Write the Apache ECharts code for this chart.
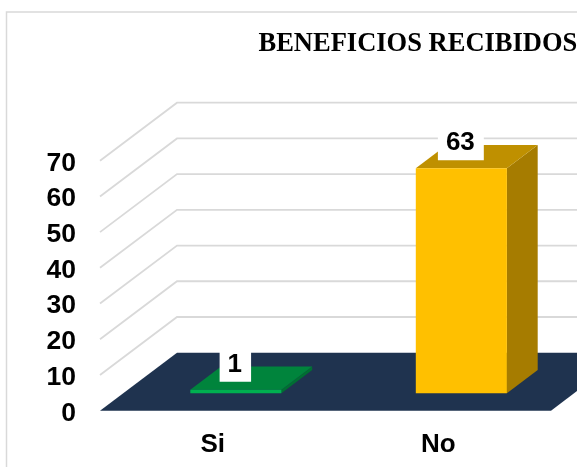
<!DOCTYPE html>
<html>
<head>
<meta charset="utf-8">
<style>html,body{margin:0;padding:0;background:#fff}#c{width:577px;height:467px}</style>
<script src="https://cdn.jsdelivr.net/npm/echarts@6/dist/echarts.min.js"></script>
</head>
<body>
<div id="c"></div>
<script>
const categories = ['Si', 'No'];
const values = [1, 63];
const ticks = [0, 10, 20, 30, 40, 50, 60, 70];
const titleText = 'BENEFICIOS RECIBIDOS';
const fronts = ['#00B050', '#FFC000'];
const tops = ['#00843C', '#BF9000'];
const sides = ['#006F32', '#A67C00'];
const floorColor = '#1F334F';
const gridColor = '#D9D9D9';

const depthX = 77, depthY = 58, nearF = 0.3, farF = 0.7, barRatio = 0.404;
const font = 'bold 26px "Liberation Sans", Arial, sans-serif';
const labelStyle = {color: '#000', fontFamily: '"Liberation Sans", Arial, sans-serif', fontWeight: 'bold', fontSize: 26.5};

const chart = echarts.init(document.getElementById('c'), null, {renderer: 'canvas'});

function wall(params, api) {
  const t = api.value(1);
  const cs = params.coordSys;
  const y = api.coord([0, t])[1];
  const L = cs.x, R = cs.x + cs.width;
  if (t === 0) {
    return {type: 'polygon', shape: {points: [[L, y], [L + depthX, y - depthY], [R + depthX, y - depthY], [R, y]]},
      style: {fill: floorColor}};
  }
  return {type: 'polyline', shape: {points: [[L, y], [L + depthX, y - depthY], [R + depthX, y - depthY]]},
    style: {stroke: gridColor, lineWidth: 1.8, fill: null}};
}

function bar(params, api) {
  const i = api.value(0), v = api.value(1);
  const top0 = api.coord([i, v]), base0 = api.coord([i, 0]);
  const w = api.size([1, 0])[0] * barRatio;
  const ox = depthX * nearF, oy = depthY * nearF;
  const dx = depthX * (farF - nearF), dy = depthY * (farF - nearF);
  const x0 = top0[0] - w / 2 + ox, x1 = x0 + w;
  const yT = top0[1] - oy, yB = base0[1] - oy;
  return {type: 'group', children: [
    {type: 'polygon', shape: {points: [[x1, yT], [x1 + dx, yT - dy], [x1 + dx, yB - dy], [x1, yB]]}, style: {fill: sides[i]}},
    {type: 'polygon', shape: {points: [[x0, yT], [x0 + dx, yT - dy], [x1 + dx, yT - dy], [x1, yT]]}, style: {fill: tops[i]}},
    {type: 'rect', shape: {x: x0, y: yT, width: w, height: yB - yT}, style: {fill: fronts[i]}},
    {type: 'text', z2: 10, x: x0 + w / 2 - 0.5, y: yT - 8, style: {
      text: String(v), font: font, fill: '#000', align: 'center', verticalAlign: 'bottom',
      backgroundColor: '#fff', padding: [0, 9, 4, 8]}}
  ]};
}

chart.setOption({
  animation: false,
  backgroundColor: '#fff',
  title: {text: titleText, left: 253.5, top: 26, textStyle: {fontFamily: '"Liberation Serif", "Times New Roman", serif', fontWeight: 'bold', fontSize: 26.5, color: '#000'}},
  grid: {left: 100, right: 26, top: 160.7, bottom: 56.3},
  xAxis: {type: 'category', data: categories, axisLine: {show: false}, axisTick: {show: false}, splitLine: {show: false},
    axisLabel: {margin: 21, color: '#000', fontFamily: '"Liberation Sans", Arial, sans-serif', fontWeight: 'bold', fontSize: 26}},
  yAxis: {type: 'value', min: 0, max: 70, interval: 10, axisLine: {show: false}, axisTick: {show: false}, splitLine: {show: false},
    axisLabel: {margin: 24, formatter: '{a|{value}}', rich: {a: Object.assign({padding: [5, 0, 0, 0]}, labelStyle)}}},
  graphic: [{type: 'rect', silent: true, z: -1, shape: {x: 6.5, y: 12, width: 700, height: 600}, style: {fill: 'none', stroke: '#D9D9D9', lineWidth: 1.5}}],
  series: [
    {type: 'custom', renderItem: wall, clip: false, silent: true, z: 1, data: ticks.map(t => [0, t])},
    {type: 'custom', renderItem: bar, clip: false, silent: true, z: 2, data: values.map((v, i) => [i, v])}
  ]
});
</script>
</body>
</html>
